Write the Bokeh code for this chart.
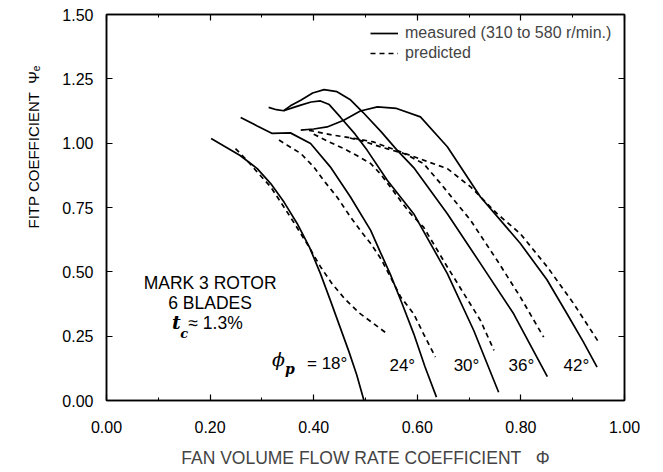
import math
from bokeh.plotting import figure
from bokeh.models import (Range1d, FixedTicker, LinearAxis, Label, Legend, Title,
                          LegendItem, NumeralTickFormatter, CustomJSTickFormatter)
from bokeh.embed import file_html
from bokeh.resources import INLINE

# ---------------- data ----------------
x_ticks = [0.0, 0.2, 0.4, 0.6, 0.8, 1.0]
x_minor = [0.1, 0.3, 0.5, 0.7, 0.9]
y_ticks = [0.0, 0.25, 0.5, 0.75, 1.0, 1.25, 1.5]

angles = ["18°", "24°", "30°", "36°", "42°"]

# measured curves (solid)
m18_x = [0.202, 0.230, 0.258, 0.291, 0.317, 0.343, 0.368, 0.392, 0.413, 0.432, 0.450, 0.468, 0.483, 0.497]
m18_y = [1.018, 0.985, 0.952, 0.901, 0.843, 0.770, 0.688, 0.595, 0.493, 0.390, 0.290, 0.190, 0.100, 0.000]

m24_x = [0.259, 0.290, 0.320, 0.355, 0.394, 0.432, 0.471, 0.510, 0.529, 0.548, 0.570, 0.593, 0.615, 0.637]
m24_y = [1.100, 1.068, 1.038, 1.040, 0.999, 0.908, 0.791, 0.661, 0.575, 0.490, 0.380, 0.260, 0.130, 0.013]

m30_x = [0.313, 0.328, 0.342, 0.360, 0.375, 0.395, 0.413, 0.430, 0.452, 0.480, 0.503, 0.542, 0.593, 0.658, 0.709, 0.757]
m30_y = [1.139, 1.130, 1.126, 1.138, 1.148, 1.160, 1.164, 1.150, 1.100, 1.035, 0.973, 0.856, 0.726, 0.493, 0.272, 0.032]

m36_x = [0.342, 0.355, 0.375, 0.398, 0.420, 0.445, 0.470, 0.495, 0.530, 0.560, 0.593, 0.658, 0.722, 0.786, 0.851]
m36_y = [1.126, 1.145, 1.167, 1.195, 1.208, 1.200, 1.170, 1.120, 1.045, 0.975, 0.905, 0.726, 0.532, 0.337, 0.093]

m42_x = [0.375, 0.400, 0.426, 0.458, 0.490, 0.523, 0.560, 0.606, 0.658, 0.722, 0.799, 0.850, 0.889, 0.920, 0.947]
m42_y = [1.051, 1.055, 1.063, 1.089, 1.125, 1.141, 1.135, 1.102, 0.986, 0.791, 0.610, 0.470, 0.337, 0.230, 0.130]

# predicted curves (dashed)
p18_x = [0.249, 0.268, 0.290, 0.317, 0.355, 0.390, 0.413, 0.435, 0.460, 0.488, 0.515, 0.538]
p18_y = [0.979, 0.940, 0.890, 0.830, 0.713, 0.600, 0.520, 0.455, 0.395, 0.340, 0.300, 0.265]

p24_x = [0.333, 0.349, 0.375, 0.400, 0.419, 0.445, 0.471, 0.490, 0.510, 0.530, 0.548, 0.568, 0.593, 0.612, 0.635]
p24_y = [1.012, 0.992, 0.960, 0.908, 0.856, 0.791, 0.713, 0.661, 0.610, 0.550, 0.480, 0.402, 0.337, 0.259, 0.169]

p30_x = [0.400, 0.430, 0.458, 0.485, 0.510, 0.529, 0.548, 0.568, 0.587, 0.612, 0.658, 0.690, 0.722, 0.748]
p30_y = [1.035, 1.005, 0.979, 0.950, 0.921, 0.880, 0.830, 0.775, 0.726, 0.674, 0.519, 0.415, 0.311, 0.195]

p36_x = [0.470, 0.500, 0.530, 0.574, 0.612, 0.645, 0.703, 0.754, 0.799, 0.844]
p36_y = [1.020, 1.005, 0.985, 0.960, 0.921, 0.843, 0.700, 0.545, 0.402, 0.246]

p42_x = [0.391, 0.438, 0.480, 0.515, 0.542, 0.568, 0.612, 0.658, 0.703, 0.754, 0.799, 0.851, 0.902, 0.950]
p42_y = [1.050, 1.031, 1.018, 1.005, 0.985, 0.966, 0.934, 0.901, 0.830, 0.726, 0.648, 0.519, 0.376, 0.227]

# ---------------- figure ----------------
FONT = "Liberation Sans"
SERIF = "DejaVu Serif"

p = figure(width=663, height=472, output_backend="svg", toolbar_location=None,
           x_range=Range1d(0, 1), y_range=Range1d(0, 1.5),
           min_border_left=106, min_border_right=39,
           min_border_top=14, min_border_bottom=72)
p.grid.visible = False
p.outline_line_color = "black"
p.outline_line_width = 1.5
p.background_fill_color = "white"
p.border_fill_color = "white"

def style_axis(ax, show_labels=True):
    ax.axis_line_color = "black"
    ax.axis_line_width = 1.5
    ax.major_tick_in = 6
    ax.major_tick_out = 0
    ax.minor_tick_in = 3
    ax.minor_tick_out = 0
    ax.major_tick_line_color = "black"
    ax.minor_tick_line_color = "black"
    ax.major_tick_line_width = 1.2
    if show_labels:
        ax.major_label_text_font = FONT
        ax.major_label_text_font_size = "16px"
        ax.major_label_text_color = "black"
    else:
        ax.formatter = CustomJSTickFormatter(code="return ''")
        ax.major_label_standoff = 0

p.xaxis.ticker = FixedTicker(ticks=x_ticks, minor_ticks=x_minor)
p.xaxis.formatter = NumeralTickFormatter(format="0.00")
p.yaxis.ticker = FixedTicker(ticks=y_ticks, minor_ticks=[])
p.yaxis.formatter = NumeralTickFormatter(format="0.00")
style_axis(p.xaxis[0])
style_axis(p.yaxis[0])
p.xaxis.major_label_standoff = 20
p.yaxis.major_label_standoff = 13

p.xaxis.axis_label = "FAN VOLUME FLOW RATE COEFFICIENT\u00a0\u00a0\u00a0\u03a6"
p.xaxis.axis_label_text_font = FONT
p.xaxis.axis_label_text_font_size = "17.5px"
p.xaxis.axis_label_text_font_style = "normal"
p.xaxis.axis_label_standoff = 12

top_ax = LinearAxis(ticker=FixedTicker(ticks=x_ticks, minor_ticks=x_minor))
style_axis(top_ax, show_labels=False)
p.add_layout(top_ax, "above")
right_ax = LinearAxis(ticker=FixedTicker(ticks=y_ticks, minor_ticks=[]))
style_axis(right_ax, show_labels=False)
p.add_layout(right_ax, "right")

# y axis title as a side title (rotated), starting part-way up the axis
ytitle = Title(text="FITP COEFFICIENT\u00a0\u00a0\u03a8\u2091", align="left",
               offset=172, standoff=36, text_font=FONT, text_font_size="15px",
               text_font_style="normal", text_color="black")
p.add_layout(ytitle, "left")

LW = 1.7
DASH = "5 4"
r_m18 = p.line(m18_x, m18_y, line_color="black", line_width=LW)
p.line(m24_x, m24_y, line_color="black", line_width=LW)
p.line(m30_x, m30_y, line_color="black", line_width=LW)
p.line(m36_x, m36_y, line_color="black", line_width=LW)
p.line(m42_x, m42_y, line_color="black", line_width=LW)
r_p18 = p.line(p18_x, p18_y, line_color="black", line_width=LW, line_dash=DASH)
p.line(p24_x, p24_y, line_color="black", line_width=LW, line_dash=DASH)
p.line(p30_x, p30_y, line_color="black", line_width=LW, line_dash=DASH)
p.line(p36_x, p36_y, line_color="black", line_width=LW, line_dash=DASH)
p.line(p42_x, p42_y, line_color="black", line_width=LW, line_dash=DASH)

legend = Legend(items=[
    LegendItem(label="measured (310 to 580 r/min.)", renderers=[r_m18]),
    LegendItem(label="predicted", renderers=[r_p18]),
], location=(264, 337))
legend.border_line_alpha = 0
legend.background_fill_alpha = 0
legend.glyph_width = 28
legend.glyph_height = 20
legend.label_height = 20
legend.label_standoff = 7
legend.padding = 0
legend.spacing = 0
legend.margin = 0
legend.label_text_font = FONT
legend.label_text_font_size = "16px"
p.add_layout(legend)

def lab(x, y, text, size="16px", font=FONT, style="normal", align="center", angle=0.0):
    p.add_layout(Label(x=x, y=y, text=text, text_align=align,
                       text_baseline="middle", text_font=font,
                       text_font_size=size, text_font_style=style,
                       text_color="black", angle=angle))

# rotor description
lab(0.200, 0.456, "MARK 3 ROTOR", size="17.5px")
lab(0.200, 0.377, "6 BLADES", size="17.5px")
lab(0.135, 0.305, "t", size="19px", font=SERIF, style="bold italic")
lab(0.150, 0.262, "c", size="13px", font=SERIF, style="bold italic")
lab(0.158, 0.302, "\u2248 1.3%", size="17.5px", align="left")

# blade angle labels
lab(0.332, 0.163, "\u03d5", size="19px", font=SERIF, style="italic")
lab(0.354, 0.122, "p", size="14px", font=SERIF, style="bold italic")
lab(0.426, 0.142, "= " + angles[0], size="17px")
lab(0.571, 0.137, angles[1], size="17px")
lab(0.695, 0.137, angles[2], size="17px")
lab(0.801, 0.137, angles[3], size="17px")
lab(0.907, 0.137, angles[4], size="17px")

open("out.html", "w").write(file_html(p, INLINE))
